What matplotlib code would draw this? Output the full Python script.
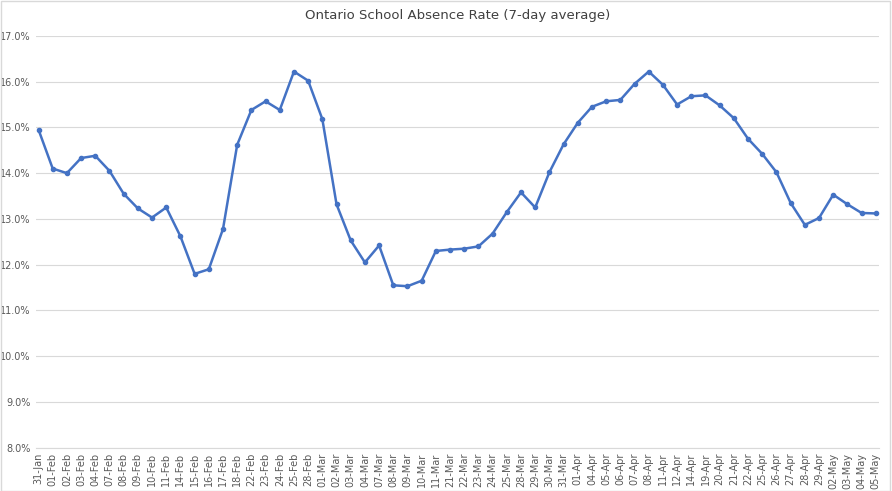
import matplotlib.pyplot as plt
from matplotlib.ticker import FuncFormatter

dates = ['31-Jan', '01-Feb', '02-Feb', '03-Feb', '04-Feb', '07-Feb', '08-Feb', '09-Feb', '10-Feb', '11-Feb',
         '14-Feb', '15-Feb', '16-Feb', '17-Feb', '18-Feb', '22-Feb', '23-Feb', '24-Feb', '25-Feb', '28-Feb',
         '01-Mar', '02-Mar', '03-Mar', '04-Mar', '07-Mar', '08-Mar', '09-Mar', '10-Mar', '11-Mar', '21-Mar',
         '22-Mar', '23-Mar', '24-Mar', '25-Mar', '28-Mar', '29-Mar', '30-Mar', '31-Mar', '01-Apr', '04-Apr',
         '05-Apr', '06-Apr', '07-Apr', '08-Apr', '11-Apr', '12-Apr', '14-Apr', '19-Apr', '20-Apr', '21-Apr',
         '22-Apr', '25-Apr', '26-Apr', '27-Apr', '28-Apr', '29-Apr', '02-May', '03-May', '04-May', '05-May']
rate = [14.95, 14.10, 14.00, 14.33, 14.38, 14.05, 13.55, 13.23, 13.03, 13.25,
        12.62, 11.80, 11.90, 12.78, 14.62, 15.38, 15.57, 15.38, 16.22, 16.02,
        15.18, 13.32, 12.53, 12.05, 12.42, 11.55, 11.53, 11.65, 12.30, 12.33,
        12.35, 12.40, 12.68, 13.15, 13.58, 13.25, 14.02, 14.63, 15.10, 15.45,
        15.57, 15.60, 15.95, 16.22, 15.93, 15.50, 15.68, 15.70, 15.48, 15.20,
        14.75, 14.42, 14.02, 13.35, 12.87, 13.02, 13.53, 13.32, 13.13, 13.12]

fig = plt.figure(figsize=(8.92, 4.91), dpi=100)
ax = fig.add_axes([0.040, 0.088, 0.945, 0.839])
fig.patches.append(plt.Rectangle((0.001, 0.001), 0.997, 0.997, transform=fig.transFigure,
                                 fill=False, edgecolor='#d9d9d9', linewidth=1))

x = list(range(len(dates)))
ax.plot(x, rate, color='#4472c4', linewidth=1.8, marker='o', markersize=3)
ax.set_ylim(8, 17)
ax.set_yticks(range(8, 18))
ax.yaxis.set_major_formatter(FuncFormatter(lambda v, p: f'{v:.1f}%'))
ax.set_xlim(-0.2, len(dates) - 0.8)
ax.set_xticks(x)
ax.set_xticklabels(dates, rotation=90)
ax.tick_params(labelsize=7, colors='#595959', length=0)
ax.grid(axis='y', color='#d9d9d9', linewidth=0.8)
ax.set_axisbelow(True)
for s in ['left', 'right', 'top']:
    ax.spines[s].set_visible(False)
ax.spines['bottom'].set_color('#d9d9d9')
ax.set_title('Ontario School Absence Rate (7-day average)', fontsize=9.5, color='#404040', pad=12)

fig.savefig('out.png')
